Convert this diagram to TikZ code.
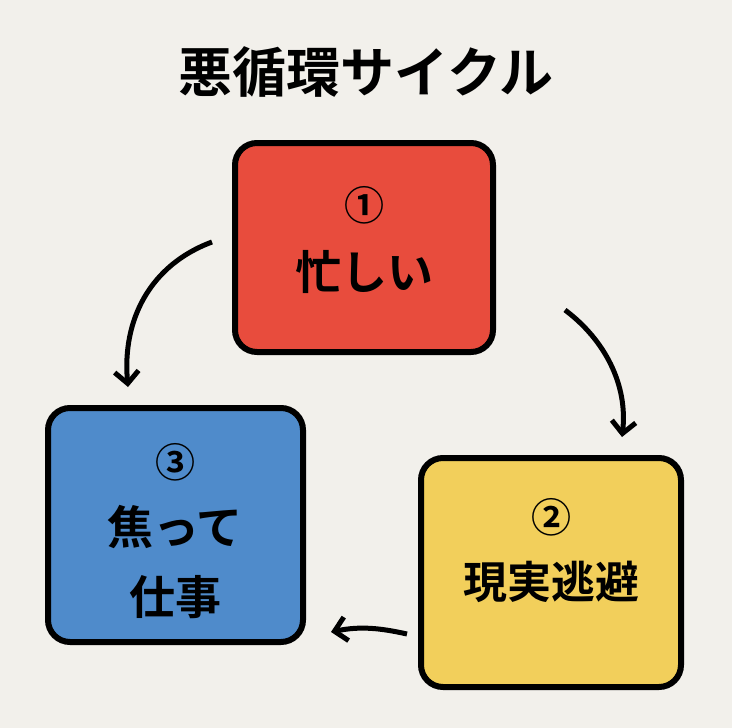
\documentclass[tikz,border=0pt]{standalone}
\usepackage{fontspec}
\newfontfamily\jp{Noto Sans CJK JP}[BoldFont={* Bold}]
\usetikzlibrary{arrows.meta}
\definecolor{bg}{HTML}{F2F0EB}
\definecolor{cred}{HTML}{E84C3D}
\definecolor{cyel}{HTML}{F2CF5B}
\definecolor{cblue}{HTML}{4F8BCB}
\begin{document}
\begin{tikzpicture}[x=1pt,y=-1pt,
 box/.style={draw=black,line width=6pt,rounded corners=22pt,align=center,font=\jp\bfseries,inner sep=0pt},
 arr/.style={line width=5pt,-{Straight Barb[length=12pt,width=24pt,line width=5pt]}}]
\fill[bg] (0,0) rectangle (732,728);
\useasboundingbox (0,0) rectangle (732,728);
\node[font=\jp\bfseries\fontsize{54}{60}\selectfont] (t) at (366,72) {悪循環サイクル};
\node[box,fill=cred,minimum width=258pt,minimum height=209pt] (a) at (364,247.5) {};
\node[box,fill=cyel,minimum width=260pt,minimum height=229pt] (b) at (551,572.5) {};
\node[box,fill=cblue,minimum width=255pt,minimum height=234pt] (c) at (175.5,525) {};
\node[font=\jp\bfseries\fontsize{40}{44}\selectfont] (a1) at (364,205) {①};
\node[font=\jp\bfseries\fontsize{46}{50}\selectfont] (a2) at (364,272) {忙しい};
\node[font=\jp\bfseries\fontsize{40}{44}\selectfont] (b1) at (551,517) {②};
\node[font=\jp\bfseries\fontsize{44}{50}\selectfont] (b2) at (551,582) {現実逃避};
\node[font=\jp\bfseries\fontsize{40}{44}\selectfont] (c1) at (175,462) {③};
\node[font=\jp\bfseries\fontsize{46}{50}\selectfont] (c2) at (175,527) {焦って};
\node[font=\jp\bfseries\fontsize{46}{50}\selectfont] (c3) at (175,597) {仕事};
\coordinate (p1) at (565,310); \coordinate (q1) at (622,437);
\coordinate (p2) at (407,634); \coordinate (q2) at (331,632);
\coordinate (p3) at (212,242); \coordinate (q3) at (128,387);
\draw[arr] (p1) .. controls (605,340) and (628,385) .. (q1);
\draw[arr] (p2) .. controls (380,628) and (360,626) .. (q2);
\draw[arr] (p3) .. controls (150,265) and (122,320) .. (q3);
\end{tikzpicture}
\end{document}
